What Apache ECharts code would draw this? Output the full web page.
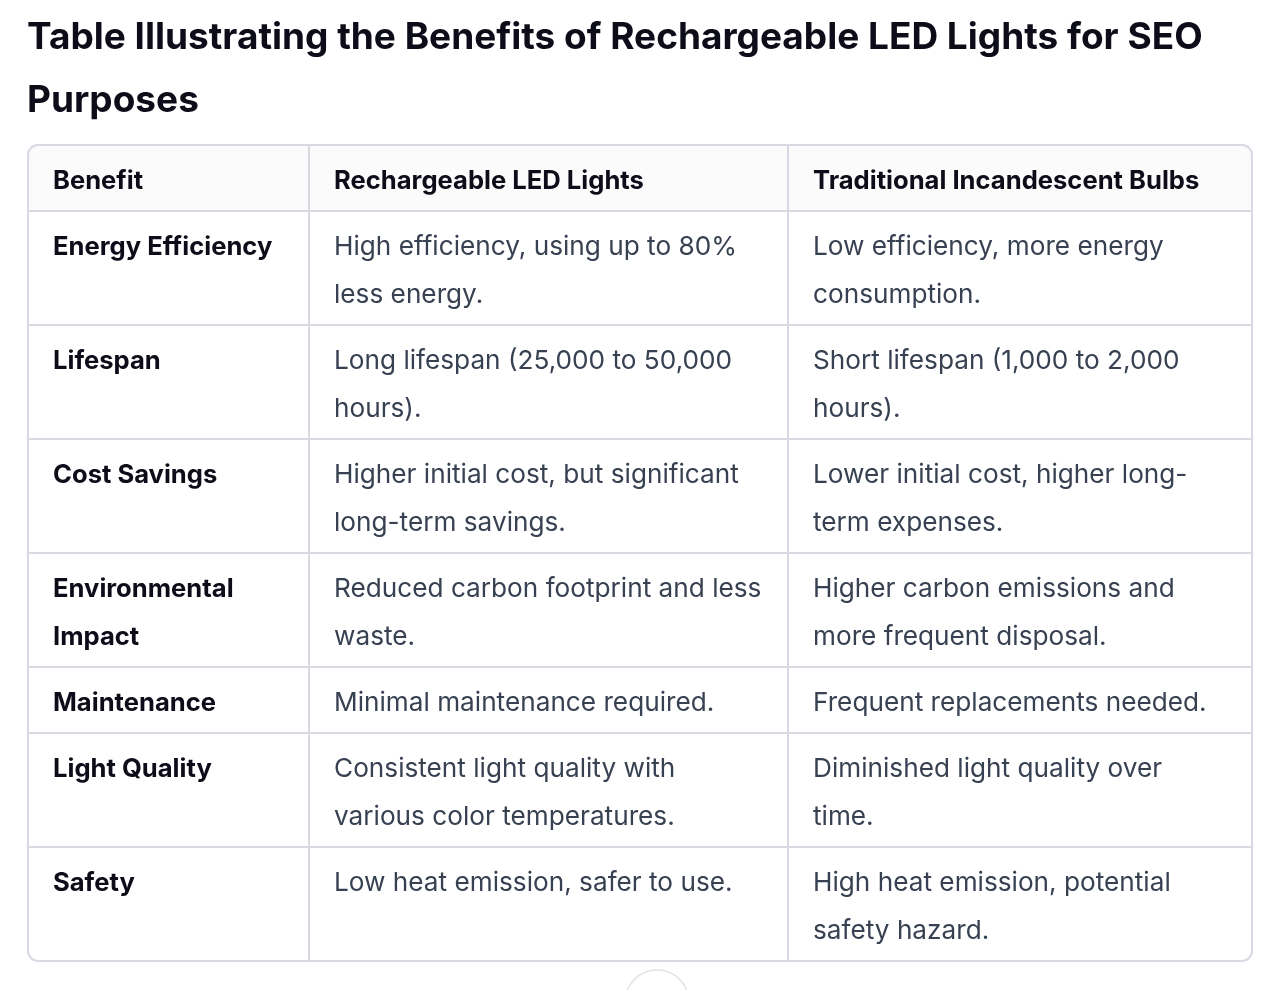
<!DOCTYPE html>
<html>
<head>
<meta charset="utf-8">
<script src="https://cdn.jsdelivr.net/npm/echarts@6/dist/echarts.min.js"></script>
<style>
html,body{margin:0;padding:0;background:#fff;}
#chart{width:1284px;height:990px;}
</style>
</head>
<body>
<div id="chart"></div>
<script>
// ---- Data ----
const titleText = "Table Illustrating the Benefits of Rechargeable LED Lights for SEO\nPurposes";
const columns = ["Benefit", "Rechargeable LED Lights", "Traditional Incandescent Bulbs"];
const benefits = [
  "Energy Efficiency",
  "Lifespan",
  "Cost Savings",
  "Environmental\nImpact",
  "Maintenance",
  "Light Quality",
  "Safety"
];
const ledLights = [
  "High efficiency, using up to 80%\nless energy.",
  "Long lifespan (25,000 to 50,000\nhours).",
  "Higher initial cost, but significant\nlong-term savings.",
  "Reduced carbon footprint and less\nwaste.",
  "Minimal maintenance required.",
  "Consistent light quality with\nvarious color temperatures.",
  "Low heat emission, safer to use."
];
const incandescent = [
  "Low efficiency, more energy\nconsumption.",
  "Short lifespan (1,000 to 2,000\nhours).",
  "Lower initial cost, higher long-\nterm expenses.",
  "Higher carbon emissions and\nmore frequent disposal.",
  "Frequent replacements needed.",
  "Diminished light quality over\ntime.",
  "High heat emission, potential\nsafety hazard."
];

// ---- Layout ----
const FONT = "Inter, 'Noto Sans', sans-serif";
const colX = [28, 309, 788, 1252];
const tableTop = 145;
const headerH = 66;
const lineH = 48;
const padX = 26;
const borderColor = "#d9d9e3";
const boldSize = 25.6;
const bodySize = 26.2;

const chart = echarts.init(document.getElementById('chart'), null, {renderer: 'canvas'});
const elements = [];

// title
elements.push({
  type: 'text', left: 27, top: 6,
  style: { text: titleText, font: "bold 37px " + FONT, fill: "#0d0d1a", lineHeight: 63 }
});

const rows = benefits.map((b, i) => [b, ledLights[i], incandescent[i]]);
const rowHeights = rows.map(r => {
  const n = Math.max(...r.map(t => t.split("\n").length));
  return headerH + lineH * (n - 1);
});
const tableBottom = tableTop + headerH + rowHeights.reduce((a, b) => a + b, 0);
const tableW = colX[3] - colX[0];

// header background
elements.push({
  type: 'rect', shape: { x: colX[0], y: tableTop, width: tableW, height: headerH, r: [10, 10, 0, 0] },
  style: { fill: "#fbfbfc" }, z: 1
});

// header text
columns.forEach((c, j) => {
  elements.push({
    type: 'text', x: colX[j] + padX - 1, y: tableTop + 36, z: 5,
    style: { text: c, font: "bold " + boldSize + "px " + FONT, fill: "#0d0d1a", verticalAlign: 'middle' }
  });
});

// rows
let y = tableTop + headerH;
rows.forEach((r, i) => {
  elements.push({
    type: 'line', z: 3, shape: { x1: colX[0], y1: y, x2: colX[3], y2: y },
    style: { stroke: borderColor, lineWidth: 2 }
  });
  r.forEach((t, j) => {
    elements.push({
      type: 'text', x: colX[j] + padX - 1, y: y + 36 - lineH / 2, z: 5,
      style: {
        text: t, font: (j === 0 ? "bold " + boldSize : bodySize) + "px " + FONT,
        fill: j === 0 ? "#0d0d1a" : "#374151", lineHeight: lineH, verticalAlign: 'top'
      }
    });
  });
  y += rowHeights[i];
});

// vertical lines
[colX[1], colX[2]].forEach(x => {
  elements.push({
    type: 'line', z: 3, shape: { x1: x, y1: tableTop, x2: x, y2: tableBottom },
    style: { stroke: borderColor, lineWidth: 2 }
  });
});

// outer border
elements.push({
  type: 'rect', z: 4, shape: { x: colX[0], y: tableTop, width: tableW, height: tableBottom - tableTop, r: 10 },
  style: { fill: 'none', stroke: borderColor, lineWidth: 2 }
});

// scroll button circle at bottom
elements.push({
  type: 'circle', z: 4, shape: { cx: 657, cy: 1002, r: 32 },
  style: { fill: '#fff', stroke: '#e3e3e3', lineWidth: 1.5 }
});

chart.setOption({
  animation: false,
  backgroundColor: '#ffffff',
  graphic: { elements }
});
</script>
</body>
</html>
